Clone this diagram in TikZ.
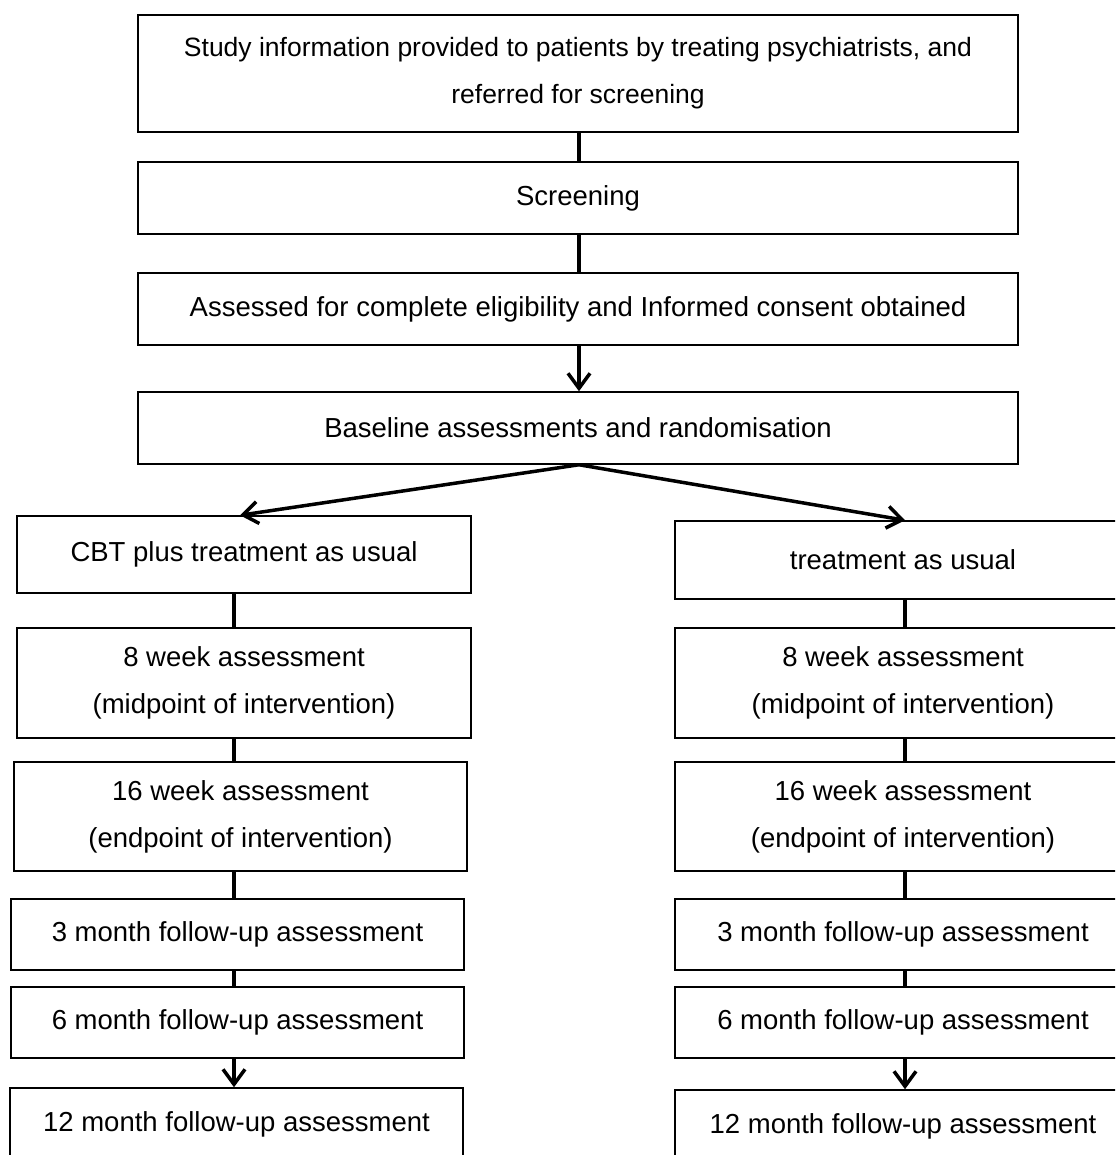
\documentclass[tikz,border=0pt]{standalone}
\usepackage{fontspec}
\setmainfont{Liberation Sans}
\usepackage{tikz}
\usetikzlibrary{arrows.meta}
\tikzset{>={Straight Barb[length=15pt,width=22pt]}}
\tikzset{
  box/.style={draw, line width=1.5pt, inner sep=0pt, align=center,
    font=\fontsize{27.5}{47}\selectfont},
  link/.style={line width=3.5pt}
}

\begin{document}
\begin{tikzpicture}[x=1pt, y=-1pt]
        \useasboundingbox (0,0) rectangle (1115,1155);
        \clip (0,0) rectangle (1115,1155);
        % Main column
        \node[box, minimum width=880, minimum height=117, font=\fontsize{26.5}{47}\selectfont] (info) at (578,73.5)
          {Study information provided to patients by treating psychiatrists, and\\referred for screening};
        \node[box, minimum width=880, minimum height=72] (screen) at (578,198) {Screening};
        \node[box, minimum width=880, minimum height=72] (consent) at (578,309)
          {Assessed for complete eligibility and Informed consent obtained};
        \node[box, minimum width=880, minimum height=72] (base) at (578,428)
          {Baseline assessments and randomisation};

        % CBT arm
        \node[box, minimum width=454, minimum height=77] (cbt) at (244,554.5) {CBT plus treatment as usual};
        \node[box, minimum width=454, minimum height=110] (cbtwk8) at (244,683)
          {8 week assessment\\(midpoint of intervention)};
        \node[box, minimum width=453, minimum height=109] (cbtwk16) at (240.5,816.5)
          {16 week assessment\\(endpoint of intervention)};
        \node[box, minimum width=453, minimum height=71] (cbtmo3) at (237.5,934.5) {3 month follow-up assessment};
        \node[box, minimum width=453, minimum height=71] (cbtmo6) at (237.5,1022.5) {6 month follow-up assessment};
        \node[box, minimum width=453, minimum height=72] (cbtmo12) at (236.5,1124) {12 month follow-up assessment};

        % TAU arm
        \node[box, minimum width=456, minimum height=78] (tau) at (903,560) {treatment as usual};
        \node[box, minimum width=456, minimum height=110] (tauwk8) at (903,683)
          {8 week assessment\\(midpoint of intervention)};
        \node[box, minimum width=456, minimum height=109] (tauwk16) at (903,816.5)
          {16 week assessment\\(endpoint of intervention)};
        \node[box, minimum width=456, minimum height=71] (taumo3) at (903,934.5) {3 month follow-up assessment};
        \node[box, minimum width=456, minimum height=71] (taumo6) at (903,1022.5) {6 month follow-up assessment};
        \node[box, minimum width=456, minimum height=72] (taumo12) at (903,1126) {12 month follow-up assessment};

        \coordinate (midcol) at (579,0);
        \coordinate (leftcol) at (234,0);
        \coordinate (rightcol) at (905,0);

        % Connectors
        \draw[link] (info.south -| midcol) -- (screen.north -| midcol);
        \draw[link] (screen.south -| midcol) -- (consent.north -| midcol);
        \draw[link, ->] (consent.south -| midcol) -- (base.north -| midcol);
        \draw[link, ->] (base.south -| midcol) -- ([xshift=-4]cbt.north);
        \draw[link, ->] (base.south -| midcol) -- (tau.north -| rightcol);

        \draw[link] (cbt.south -| leftcol) -- (cbtwk8.north -| leftcol);
        \draw[link] (cbtwk8.south -| leftcol) -- (cbtwk16.north -| leftcol);
        \draw[link] (cbtwk16.south -| leftcol) -- (cbtmo3.north -| leftcol);
        \draw[link] (cbtmo3.south -| leftcol) -- (cbtmo6.north -| leftcol);
        \draw[link, ->] (cbtmo6.south -| leftcol) -- (cbtmo12.north -| leftcol);

        \draw[link] (tau.south -| rightcol) -- (tauwk8.north -| rightcol);
        \draw[link] (tauwk8.south -| rightcol) -- (tauwk16.north -| rightcol);
        \draw[link] (tauwk16.south -| rightcol) -- (taumo3.north -| rightcol);
        \draw[link] (taumo3.south -| rightcol) -- (taumo6.north -| rightcol);
        \draw[link, ->] (taumo6.south -| rightcol) -- (taumo12.north -| rightcol);
      \end{tikzpicture}
\end{document}
